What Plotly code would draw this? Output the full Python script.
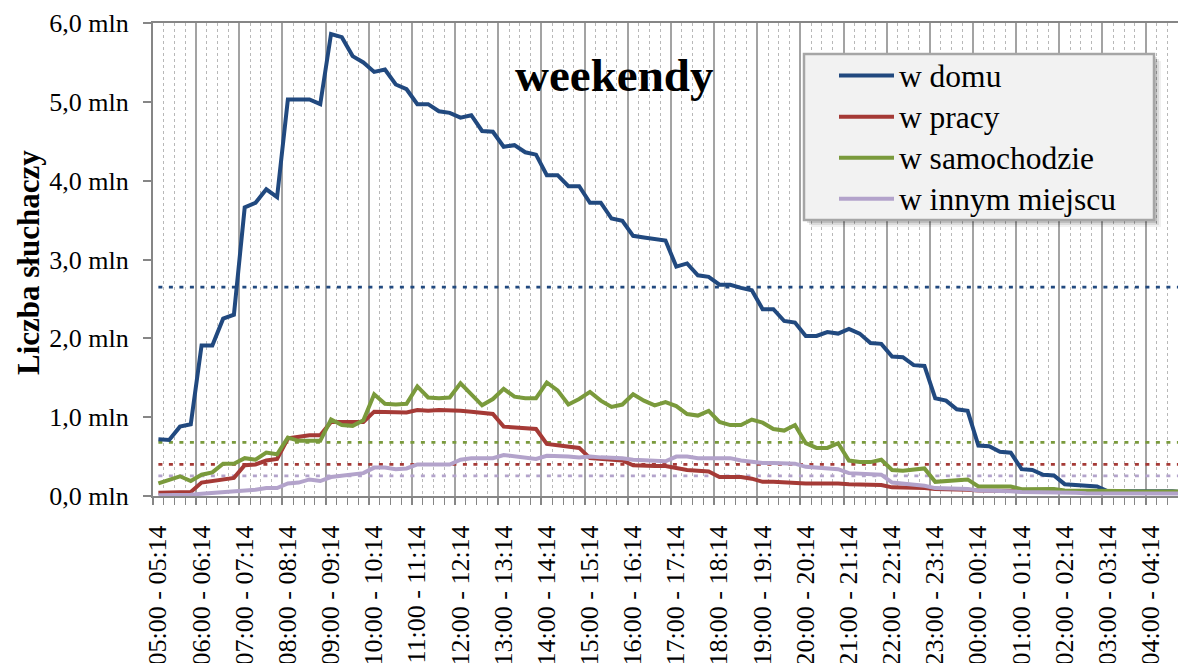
import plotly.graph_objects as go

# ---- data -------------------------------------------------------------
hours = [5, 6, 7, 8, 9, 10, 11, 12, 13, 14, 15, 16, 17, 18, 19, 20, 21, 22, 23, 0, 1, 2, 3, 4]
minutes = [0, 15, 30, 45]
categories = [f"{h:02d}:{m:02d} - {h:02d}:{m + 14:02d}" for h in hours for m in minutes]

w_domu = [0.72, 0.71, 0.88, 0.91, 1.91, 1.91, 2.25, 2.30, 3.66, 3.72, 3.89, 3.79,
          5.03, 5.03, 5.03, 4.97, 5.86, 5.82, 5.58, 5.50, 5.38, 5.41, 5.22, 5.16,
          4.97, 4.97, 4.88, 4.86, 4.80, 4.83, 4.63, 4.62, 4.43, 4.45, 4.36, 4.33,
          4.07, 4.07, 3.93, 3.93, 3.72, 3.72, 3.52, 3.49, 3.30, 3.28, 3.26, 3.24,
          2.91, 2.95, 2.80, 2.78, 2.68, 2.68, 2.64, 2.61, 2.37, 2.37, 2.22, 2.20,
          2.03, 2.03, 2.08, 2.06, 2.12, 2.06, 1.94, 1.93, 1.77, 1.76, 1.66, 1.65,
          1.24, 1.21, 1.10, 1.08, 0.64, 0.63, 0.56, 0.55, 0.34, 0.33, 0.27, 0.26,
          0.15, 0.14, 0.13, 0.12, 0.06, 0.06, 0.06, 0.06, 0.07, 0.07, 0.06, 0.05]

w_pracy = [0.04, 0.045, 0.05, 0.05, 0.17, 0.19, 0.21, 0.23, 0.39, 0.40, 0.45, 0.47,
           0.73, 0.75, 0.77, 0.77, 0.94, 0.94, 0.94, 0.94, 1.07, 1.07, 1.06, 1.06,
           1.09, 1.08, 1.09, 1.09, 1.08, 1.07, 1.05, 1.04, 0.88, 0.87, 0.86, 0.85,
           0.66, 0.64, 0.62, 0.61, 0.48, 0.47, 0.46, 0.45, 0.39, 0.38, 0.38, 0.38,
           0.35, 0.33, 0.32, 0.31, 0.24, 0.24, 0.24, 0.22, 0.18, 0.18, 0.17, 0.17,
           0.16, 0.16, 0.165, 0.16, 0.15, 0.15, 0.14, 0.14, 0.11, 0.11, 0.10, 0.10,
           0.09, 0.09, 0.08, 0.08, 0.07, 0.07, 0.065, 0.065, 0.06, 0.06, 0.06, 0.06,
           0.055, 0.055, 0.055, 0.055, 0.05, 0.05, 0.05, 0.05, 0.05, 0.05, 0.05, 0.05]

w_samochodzie = [0.16, 0.21, 0.25, 0.19, 0.27, 0.30, 0.41, 0.41, 0.48, 0.46, 0.55, 0.53,
                 0.74, 0.70, 0.70, 0.70, 0.97, 0.90, 0.89, 0.96, 1.29, 1.17, 1.16, 1.17,
                 1.39, 1.25, 1.24, 1.25, 1.43, 1.29, 1.15, 1.23, 1.36, 1.26, 1.24, 1.24,
                 1.44, 1.34, 1.16, 1.23, 1.32, 1.21, 1.13, 1.16, 1.29, 1.21, 1.15, 1.19,
                 1.14, 1.04, 1.02, 1.08, 0.94, 0.90, 0.90, 0.97, 0.93, 0.85, 0.83, 0.90,
                 0.67, 0.61, 0.61, 0.67, 0.45, 0.43, 0.43, 0.46, 0.33, 0.32, 0.33, 0.35,
                 0.18, 0.19, 0.20, 0.21, 0.12, 0.12, 0.12, 0.12, 0.085, 0.085, 0.09, 0.09,
                 0.07, 0.07, 0.075, 0.075, 0.065, 0.065, 0.06, 0.06, 0.06, 0.06, 0.055, 0.055]

w_innym = [0.01, 0.01, 0.01, 0.015, 0.03, 0.04, 0.045, 0.055, 0.075, 0.08, 0.10, 0.10,
           0.16, 0.17, 0.21, 0.19, 0.24, 0.26, 0.27, 0.29, 0.36, 0.36, 0.34, 0.35,
           0.40, 0.40, 0.40, 0.40, 0.46, 0.48, 0.48, 0.48, 0.52, 0.50, 0.49, 0.47,
           0.51, 0.51, 0.50, 0.49, 0.50, 0.49, 0.49, 0.48, 0.46, 0.45, 0.45, 0.44,
           0.50, 0.50, 0.48, 0.48, 0.49, 0.48, 0.45, 0.43, 0.42, 0.42, 0.42, 0.41,
           0.37, 0.36, 0.34, 0.34, 0.29, 0.28, 0.28, 0.27, 0.17, 0.16, 0.15, 0.13,
           0.10, 0.10, 0.09, 0.09, 0.07, 0.07, 0.065, 0.06, 0.05, 0.05, 0.045, 0.045,
           0.04, 0.04, 0.035, 0.035, 0.03, 0.03, 0.03, 0.03, 0.03, 0.03, 0.03, 0.03]

# average levels (dotted reference lines)
avg_domu = 2.65
avg_pracy = 0.40
avg_samochodzie = 0.68
avg_innym = 0.255

y_ticks = [0, 1, 2, 3, 4, 5, 6]
y_ticktext = ["0,0 mln", "1,0 mln", "2,0 mln", "3,0 mln", "4,0 mln", "5,0 mln", "6,0 mln"]

series_names = ["w domu", "w pracy", "w samochodzie", "w innym miejscu"]
series_values = [w_domu, w_pracy, w_samochodzie, w_innym]
series_avgs = [avg_domu, avg_pracy, avg_samochodzie, avg_innym]
colors = ["#21497F", "#A53A36", "#7A9A3C", "#B3A3CB"]

# ---- figure -----------------------------------------------------------
FONT = "Liberation Serif, serif"
W, H = 1178, 663
ML, MR, MT, MB = 153, 0, 23, 167
PW, PH = W - ML - MR, H - MT - MB
Y0 = H - MB  # pixel row of the x axis
xr = [-0.5, 94.5]
n = len(categories)
x = list(range(n))
cat_px = PW / (xr[1] - xr[0])


def px_x(v):
    return (v - ML) / PW


def px_y(v):
    return (Y0 - v) / PH


fig = go.Figure()

for name, vals, avg, col in zip(series_names, series_values, series_avgs, colors):
    fig.add_trace(go.Scatter(
        x=x, y=[avg] * n, mode="lines", showlegend=False, hoverinfo="skip",
        line=dict(color=col, width=2.8, dash="4px,6.5px")))

for name, vals, col in zip(series_names, series_values, colors):
    fig.add_trace(go.Scatter(
        x=x, y=vals, mode="lines",
        name=f"<span style='font-size:31.5px'>{name}</span>",
        line=dict(color=col, width=4)))

major_vals = [i - 0.5 for i in range(0, n, 4)]
major_text = [categories[i] for i in range(0, n, 4)]
minor_vals = [i - 0.5 for i in range(n) if i % 4 != 0]

fig.update_layout(
    width=W, height=H,
    margin=dict(l=ML, r=MR, t=MT, b=MB, autoexpand=False),
    paper_bgcolor="white", plot_bgcolor="white",
    font=dict(family=FONT, color="black"),
    showlegend=True,
    legend=dict(
        x=px_x(834), y=px_y(50),
        xanchor="left", yanchor="top",
        bgcolor="rgba(0,0,0,0)", borderwidth=0,
        font=dict(family=FONT, size=29.3, color="black"),
        itemwidth=55, tracegroupgap=0,
    ),
    xaxis=dict(
        range=xr, tickmode="array", tickvals=major_vals, ticktext=major_text,
        tickangle=-90, ticklabelshift=int(round(cat_px / 2)), ticklabelstandoff=10,
        tickfont=dict(family=FONT, size=26, color="black"),
        ticks="outside", ticklen=7, tickcolor="#868686", tickwidth=1.5,
        showgrid=True, gridcolor="#a3a3a3", gridwidth=2,
        minor=dict(tickmode="array", tickvals=minor_vals, ticks="outside",
                   ticklen=7, tickcolor="#868686", tickwidth=1,
                   showgrid=True, gridcolor="#b8b8b8", griddash="dot", gridwidth=1.3),
        showline=True, linecolor="#868686", linewidth=2, mirror=True,
        zeroline=False, fixedrange=True, automargin=False,
    ),
    yaxis=dict(
        range=[0, 6], tickmode="array", tickvals=y_ticks, ticktext=y_ticktext,
        tickfont=dict(family=FONT, size=26, color="black"),
        ticks="outside", ticklen=8, tickcolor="#868686", tickwidth=1.5,
        ticklabelstandoff=9,
        showgrid=False, zeroline=False, automargin=False, fixedrange=True,
        showline=True, linecolor="#868686", linewidth=2,
    ),
    annotations=[
        dict(text="<b>weekendy</b>", xref="paper", yref="paper",
             x=px_x(614), y=px_y(75),
             xanchor="center", yanchor="middle", showarrow=False,
             font=dict(family=FONT, size=47, color="black")),
        dict(text="<b>Liczba słuchaczy</b>", xref="paper", yref="paper",
             x=px_x(28), y=px_y(263),
             xanchor="center", yanchor="middle", textangle=-90, showarrow=False,
             font=dict(family=FONT, size=31, color="black")),
    ],
)

# legend frame with soft shadow (decoration)
bx0, bx1, by0, by1 = 804, 1154, 54, 220
shapes = []
for off, alpha in [(7, 0.06), (5, 0.09), (3, 0.12)]:
    shapes.append(dict(type="rect", xref="paper", yref="paper", layer="above",
                       x0=px_x(bx0 + off), x1=px_x(bx1 + off),
                       y0=px_y(by1 + off), y1=px_y(by0 + off),
                       fillcolor=f"rgba(0,0,0,{alpha})", line=dict(width=0)))
shapes.append(dict(type="rect", xref="paper", yref="paper", layer="above",
                   x0=px_x(bx0), x1=px_x(bx1), y0=px_y(by1), y1=px_y(by0),
                   fillcolor="#f2f2f2", line=dict(color="#a6a6a6", width=2.5)))
fig.update_layout(shapes=shapes)

fig.write_html("out.html",
               config={"displayModeBar": False},
               post_script="document.body.style.margin='0';document.body.style.overflow='hidden';")
